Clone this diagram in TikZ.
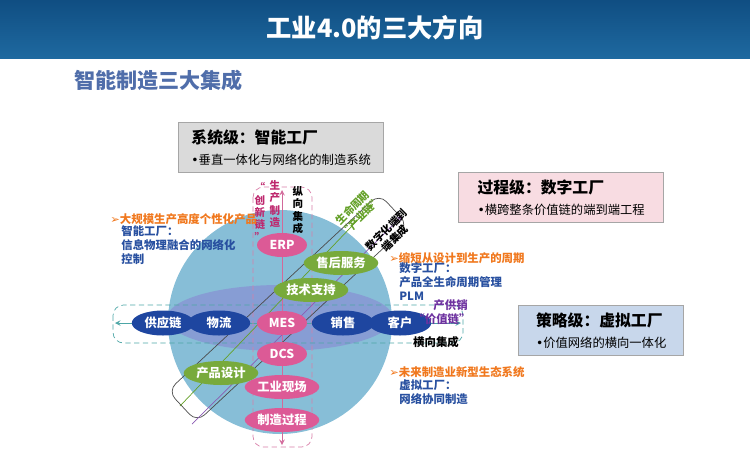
\documentclass[tikz,border=0pt]{standalone}
\usepackage{fontspec}
\setmainfont{Noto Sans CJK SC}
\newfontfamily\symfont{DejaVu Sans}
\usepackage{tikz}
\usetikzlibrary{arrows,shapes,positioning,calc}
\definecolor{bartop}{RGB}{16,78,130}
\definecolor{barbot}{RGB}{30,105,160}
\definecolor{subblue}{RGB}{80,110,170}
\definecolor{lvlgray}{RGB}{218,218,218}
\definecolor{lvlpink}{RGB}{248,220,226}
\definecolor{lvlblue}{RGB}{200,215,235}
\definecolor{globe}{RGB}{135,190,215}
\definecolor{band}{RGB}{135,130,210}
\definecolor{pinknode}{RGB}{220,90,150}
\definecolor{bluenode}{RGB}{30,70,160}
\definecolor{greennode}{RGB}{120,170,60}
\definecolor{txorange}{RGB}{240,120,30}
\definecolor{txblue}{RGB}{40,80,160}
\definecolor{txmagenta}{RGB}{190,40,110}
\definecolor{txpurple}{RGB}{110,50,160}
\definecolor{txgreen}{RGB}{100,160,40}
\newcommand{\arr}{{\symfont\char"27A2}}
\newcommand{\bul}{{\symfont\char"2022}}
\tikzstyle{level} = [rectangle, draw=gray!70, thick, align=left, anchor=north west, inner sep=4pt, font=\small]
\tikzstyle{pnode} = [ellipse, minimum width=1.0cm, minimum height=0.48cm, inner sep=1pt, fill=pinknode, text=white, font=\scriptsize\bfseries]
\tikzstyle{bnode} = [ellipse, minimum width=1.25cm, minimum height=0.5cm, inner sep=1pt, fill=bluenode, text=white, font=\scriptsize\bfseries]
\tikzstyle{gnode} = [ellipse, minimum width=1.1cm, minimum height=0.48cm, inner sep=1pt, fill=greennode, text=white, font=\scriptsize\bfseries]
\tikzstyle{note} = [anchor=west, inner sep=0pt, font=\fontsize{6.5}{8}\selectfont\bfseries, align=left]
\tikzstyle{vtext} = [text width=0.7em, align=center, inner sep=0pt, font=\fontsize{6}{7}\selectfont\bfseries]
\begin{document}
\begin{tikzpicture}[x=0.02cm, y=-0.02cm]
    \useasboundingbox (0,0) rectangle (750,457);
    % Title bar
    \shade[top color=bartop, bottom color=barbot] (0,0) rectangle (750,58);
    \node[text=white, font=\Large\bfseries] (title) at (375,28) {工业4.0的三大方向};
    \node[anchor=west, text=subblue, font=\large\bfseries] (sub) at (68,80) {智能制造三大集成};

    % Level boxes
    \node[level, fill=lvlgray, minimum width=4.1cm, minimum height=0.95cm] (sys) at (178,122) {\textbf{系统级：智能工厂}\\[1pt]{\scriptsize \bul 垂直一体化与网络化的制造系统}};
    \node[level, fill=lvlpink, minimum width=4.1cm, minimum height=1.0cm] (proc) at (458,172) {\textbf{过程级：数字工厂}\\[1pt]{\scriptsize \bul 横跨整条价值链的端到端工程}};
    \node[level, fill=lvlblue, minimum width=3.3cm, minimum height=1.0cm] (strat) at (518,305) {\textbf{策略级：虚拟工厂}\\[1pt]{\scriptsize \bul 价值网络的横向一体化}};

    % Globe and band
    \fill[globe] (280,322) circle (112);
    \fill[band, opacity=0.55] (280,318) ellipse (113 and 33);

    % Frames
    \draw[rounded corners=6pt, densely dashed, draw=teal!70] (113,305) rectangle (463,343);
    \draw[<->, >=stealth, teal!70] (115,323) -- (461,323);
    \draw[rounded corners=6pt, densely dashed, draw=txmagenta!60] (253,187) rectangle (312,447);
    \draw[<->, >=stealth, txmagenta!70] (282,190) -- (282,445);
    \node[rotate=43, draw=gray!60!black, rounded corners=6pt, minimum width=5.78cm, minimum height=0.85cm] (diag) at (288,308) {};
    \draw[->, >=stealth, txgreen] (180,406) -- (373,204);
    \draw[->, >=stealth, txpurple!80] (192,424) -- (402,216);

    % Nodes
    \node[pnode] (erp) at (282,245) {ERP};
    \node[pnode] (mes) at (282,323) {MES};
    \node[pnode] (dcs) at (282,354) {DCS};
    \node[pnode] (site) at (282,387) {工业现场};
    \node[pnode] (proc2) at (282,420) {制造过程};
    \node[bnode] (supply) at (163,323) {供应链};
    \node[bnode] (logi) at (219,323) {物流};
    \node[bnode] (sales) at (343,323) {销售};
    \node[bnode] (cust) at (400,323) {客户};
    \node[gnode] (after) at (341,263) {售后服务};
    \node[gnode] (tech) at (311,290) {技术支持};
    \node[gnode] (design) at (221,373) {产品设计};

    % Frame labels
    \node[vtext, text=txmagenta] (chain1) at (260,212) {“\\创\\新\\链\\”};
    \node[vtext, text=txmagenta] (chain2) at (275,204) {生\\产\\制\\造};
    \node[vtext] (vint) at (298,210) {纵\\向\\集\\成};
    \node[rotate=45, text=txgreen, font=\fontsize{6}{7}\selectfont\bfseries, align=center, inner sep=0pt] (life) at (357,212) {生命周期\\“产业链”};
    \node[rotate=45, font=\fontsize{6}{7}\selectfont\bfseries, align=center, inner sep=0pt] (e2e) at (391,234) {数字化端到\\端集成};
    \node[text=txpurple, font=\fontsize{6.5}{8}\selectfont\bfseries, align=center, inner sep=0pt] (value) at (442,312) {\hspace*{1.5em}产供销\\“价值链”};
    \node[font=\fontsize{6.5}{8}\selectfont\bfseries, inner sep=0pt] (hint) at (436,342) {横向集成};

    % Notes
    \node[note, text=txorange] (n1) at (110,219) {\arr 大规模生产高度个性化产品};
    \node[note, text=txblue] (n1b) at (121,245) {智能工厂：\\信息物理融合的网络化\\控制};
    \node[note, text=txorange] (n2) at (389,258) {\arr 缩短从设计到生产的周期};
    \node[note, text=txblue] (n2b) at (399,282) {数字工厂：\\产品全生命周期管理\\PLM};
    \node[note, text=txorange] (n3) at (389,372) {\arr 未来制造业新型生态系统};
    \node[note, text=txblue] (n3b) at (399,392) {虚拟工厂：\\网络协同制造};
\end{tikzpicture}
\end{document}
